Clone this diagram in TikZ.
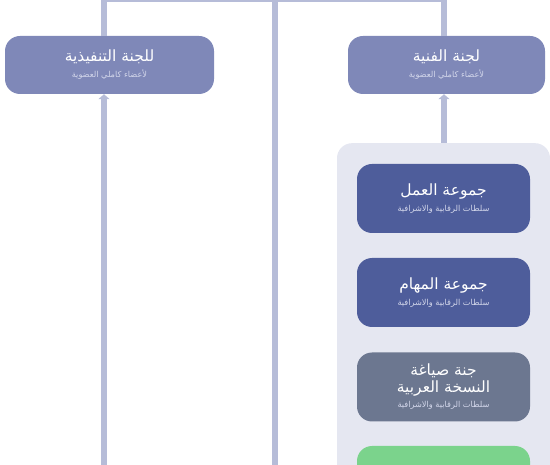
\documentclass[tikz,border=0pt]{standalone}
\usepackage{fontspec}
\usepackage{xcolor}
\usetikzlibrary{arrows.meta,positioning}
\TeXXeTstate=1
\newfontfamily\arabicfont[Script=Arabic]{DejaVu Sans}
\definecolor{wire}{HTML}{B6BCD8}
\definecolor{council}{HTML}{7F88B8}
\definecolor{group}{HTML}{4E5D9B}
\definecolor{drafting}{HTML}{6C7790}
\definecolor{pending}{HTML}{7BD38C}
\definecolor{panelbg}{HTML}{E5E7F1}
\definecolor{subtext}{HTML}{D2D6EA}
\newcommand{\unitsub}[1]{{\arabicfont\fontsize{8.2}{10}\selectfont\color{subtext}#1}}

\begin{document}
\begin{tikzpicture}[x=1pt,y=-1pt,>={Triangle[width=11pt,length=5pt]},
  link/.style={draw=wire,line width=6pt},
  unit/.style={rounded corners=15pt,text=white,align=center,inner sep=0pt,
               minimum height=58pt,font=\arabicfont\fontsize{15.5}{18}\selectfont},
  groupbox/.style={unit,fill=group,minimum width=173pt,minimum height=69pt}]
  \useasboundingbox (0,0) rectangle (550,465);
  \clip (0,0) rectangle (550,465);
  % wiring
  \coordinate (topL) at (104,-1);
  \coordinate (topM) at (275,-1);
  \coordinate (topR) at (444,-1);
  \coordinate (botL) at (104,470);
  \coordinate (botM) at (275,470);
  % upper committees
  \node[unit,fill=council,minimum width=209pt] (exec) at (109.5,65)
    {\beginR للجنة التنفيذية\endR\\[-2pt]\unitsub{\beginR لأعضاء كاملي العضوية\endR}};
  \node[unit,fill=council,minimum width=197pt] (tech) at (446.5,65)
    {\beginR لجنة الفنية\endR\\[-2pt]\unitsub{\beginR لأعضاء كاملي العضوية\endR}};
  % panel of groups
  \node[fill=panelbg,rounded corners=15pt,minimum width=213pt,minimum height=360pt,
        anchor=north] (panel) at (443.5,143) {};
  \draw[link] (topL) -- (topR);
  \draw[link] (topL) -- (topL |- exec.north);
  \draw[link] (topR) -- (topR |- tech.north);
  \draw[link] (topM) -- (botM);
  \draw[link,->] (botL) -- (botL |- exec.south);
  \draw[link,->] (topR |- panel.north) -- (topR |- tech.south);
  \node[groupbox] (work) at (443.5,198.5)
    {\beginR جموعة العمل\endR\\[-2pt]\unitsub{\beginR سلطات الرقابية والاشرافية\endR}};
  \node[groupbox] (tasks) at (443.5,292.5)
    {\beginR جموعة المهام\endR\\[-2pt]\unitsub{\beginR سلطات الرقابية والاشرافية\endR}};
  \node[groupbox,fill=drafting] (draft) at (443.5,387)
    {\beginR جنة صياغة\endR\\[-1pt]\beginR النسخة العربية\endR\\[-3pt]\unitsub{\beginR سلطات الرقابية والاشرافية\endR}};
  \node[groupbox,fill=pending] (next) at (443.5,480.5) {};
\end{tikzpicture}
\end{document}
